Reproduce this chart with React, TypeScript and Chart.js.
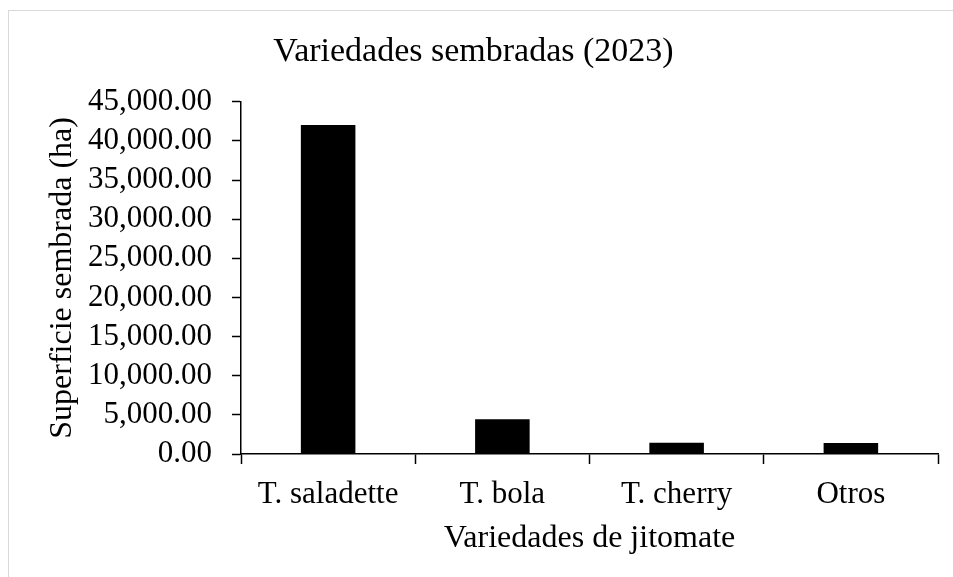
import React, { useEffect, useRef } from "react";
import { Chart, registerables } from "chart.js";

Chart.register(...registerables);

const categories = ["T. saladette", "T. bola", "T. cherry", "Otros"];
const values = [42050, 4450, 1450, 1420];
const chartTitle = "Variedades sembradas (2023)";
const xTitle = "Variedades de jitomate";
const yTitle = "Superficie sembrada (ha)";

const FONT = "'Liberation Serif', 'Times New Roman', serif";

export default function App() {
  const ref = useRef<HTMLCanvasElement | null>(null);
  useEffect(() => {
    if (!ref.current) return;
    const chart = new Chart(ref.current, {
      type: "bar",
      data: {
        labels: categories,
        datasets: [
          {
            data: values,
            backgroundColor: "#000000",
            borderWidth: 0,
            categoryPercentage: 1,
            barPercentage: 0.313,
          },
        ],
      },
      options: {
        animation: false,
        responsive: false,
        layout: { padding: { top: 0, left: 0, right: 15, bottom: 0 } },
        plugins: {
          legend: { display: false },
          tooltip: { enabled: false },
          title: {
            display: true,
            text: chartTitle,
            color: "#000",
            font: { family: FONT, size: 34, weight: "normal" },
            padding: { top: 21, bottom: 29 },
          },
        },
        scales: {
          x: {
            afterFit: (s: any) => {
              s.height = 123;
            },
            grid: {
              offset: true,
              drawOnChartArea: false,
              drawTicks: true,
              tickLength: 10,
              tickColor: "#000",
              tickWidth: 1.5,
            },
            border: { display: true, color: "#000", width: 1.5 },
            ticks: {
              color: "#000",
              font: { family: FONT, size: 31 },
              padding: 12,
              maxRotation: 0,
              autoSkip: false,
            },
            title: {
              display: true,
              text: xTitle,
              color: "#000",
              font: { family: FONT, size: 32 },
              padding: { top: 0, bottom: 19 },
            },
          },
          y: {
            min: 0,
            max: 45000,
            afterFit: (s: any) => {
              s.width = 232;
            },
            grid: {
              drawOnChartArea: false,
              drawTicks: true,
              tickLength: 9,
              tickColor: "#000",
              tickWidth: 1.5,
            },
            border: { display: true, color: "#000", width: 1.5 },
            ticks: {
              stepSize: 5000,
              autoSkip: false,
              color: "#000",
              font: { family: FONT, size: 31 },
              padding: 20,
              callback: (v: any) =>
                Number(v).toLocaleString("en-US", {
                  minimumFractionDigits: 2,
                  maximumFractionDigits: 2,
                }),
            },
            title: {
              display: true,
              text: yTitle,
              color: "#000",
              font: { family: FONT, size: 32 },
              padding: { top: 34, bottom: 0 },
            },
          },
        },
      },
    });
    return () => chart.destroy();
  }, []);

  return (
    <div
      style={{
        position: "fixed",
        left: 8,
        top: 10,
        width: 945,
        height: 567,
        borderLeft: "1px solid #d9d9d9",
        borderTop: "1px solid #d9d9d9",
        background: "#fff",
        boxSizing: "border-box",
      }}
    >
      <canvas
        ref={ref}
        width={944}
        height={566}
        style={{ position: "absolute", left: 0, top: 0, width: 944, height: 566 }}
      />
    </div>
  );
}
